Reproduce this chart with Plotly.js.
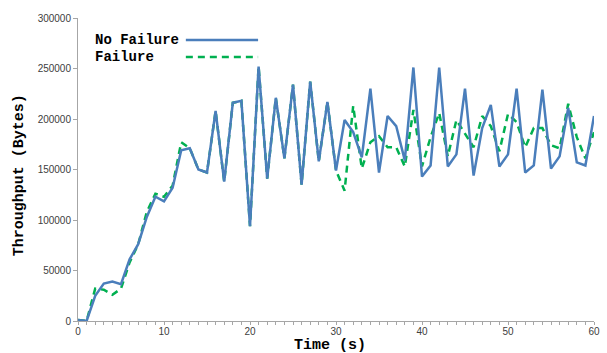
<!DOCTYPE html>
<html>
<head>
<meta charset="utf-8">
<script src="https://cdn.plot.ly/plotly-3.0.1.min.js"></script>
<style>html,body{margin:0;padding:0;background:#fff;}#chart{width:607px;height:353px;}</style>
</head>
<body>
<div id="chart"></div>
<script>
// Time (s)
const timeS = [0,1,2,3,4,5,6,7,8,9,10,11,12,13,14,15,16,17,18,19,20,21,22,23,24,25,26,27,28,29,30,31,32,33,34,35,36,37,38,39,40,41,42,43,44,45,46,47,48,49,50,51,52,53,54,55,56,57,58,59,60];
// Throughput (Bytes), No Failure
const noFailure = [1000,0,25000,37000,39000,36500,61000,76000,103000,123000,118500,132000,169000,171000,150000,147000,208000,138000,216000,218000,94000,252000,141000,221000,161000,234000,135000,237000,158000,217000,149000,199000,187000,162000,230000,147000,203000,193000,159000,251000,143000,154000,251000,153000,165000,230000,144000,191000,214000,153000,165000,230000,147000,154000,229000,151000,163000,211000,157000,154000,203000];
// Throughput (Bytes), Failure
const failure = [1000,0,32000,31000,26000,32000,58000,76000,108000,126000,123000,134000,177000,171000,150000,147000,208000,138000,216000,218000,94000,252000,141000,221000,161000,234000,135000,237000,158000,217000,149000,129000,213000,151000,177000,183000,172000,172000,153000,209000,153000,182000,206000,163000,199000,186000,172000,203000,193000,168000,205000,197000,172000,191000,191000,174000,171000,215000,182000,161000,187000];
const seriesNames = ["No Failure", "Failure"];
const xTitle = "Time (s)";
const yTitle = "Throughput (Bytes)";

const blue = "#4A7EBB", green = "#00B050";
const mono = "'Liberation Mono', 'Courier New', monospace";

const traces = [
  {x: timeS, y: failure, name: seriesNames[1], mode: "lines", line: {color: green, width: 2.5, dash: "7px,5px"}, showlegend: false},
  {x: timeS, y: noFailure, name: seriesNames[0], mode: "lines", line: {color: blue, width: 2.5}, showlegend: false}
];

const layout = {
  width: 607, height: 353,
  margin: {l: 78, r: 13, t: 18, b: 32},
  paper_bgcolor: "#fff", plot_bgcolor: "#fff",
  font: {family: "'Liberation Sans', Arial, sans-serif", size: 10, color: "#404040"},
  xaxis: {
    range: [0, 60], dtick: 10, tick0: 0, showgrid: false, zeroline: false,
    showline: true, linecolor: "#A6A6A6", linewidth: 1,
    ticks: "outside", ticklen: 3, tickcolor: "#A6A6A6", ticklabelstandoff: -2,
    minor: {dtick: 1, ticks: "outside", ticklen: 3, tickcolor: "#A6A6A6", showgrid: false},
    tickfont: {size: 10, color: "#404040"}
  },
  yaxis: {
    range: [0, 300000], dtick: 50000, tickformat: "d", showgrid: false, zeroline: false,
    showline: true, linecolor: "#A6A6A6", linewidth: 1,
    ticks: "outside", ticklen: 4, tickcolor: "#A6A6A6",
    tickfont: {size: 10, color: "#404040"}
  },
  showlegend: false,
  annotations: [
    {xref: "paper", yref: "paper", x: 0.488, y: -0.1122, xanchor: "center", yanchor: "bottom", showarrow: false, borderpad: 0,
     text: "<b>" + xTitle + "</b>", font: {family: mono, size: 15, color: "#000"}},
    {xref: "paper", yref: "paper", x: -0.112, y: 0.482, xanchor: "center", yanchor: "middle", showarrow: false, textangle: -90,
     text: "<b>" + yTitle + "</b>", font: {family: mono, size: 15, color: "#000"}},
    {xref: "paper", yref: "paper", x: 0.029, y: 0.927, xanchor: "left", yanchor: "middle", showarrow: false,
     text: "<b>" + seriesNames[0] + "</b>", font: {family: mono, size: 14, color: "#000"}},
    {xref: "paper", yref: "paper", x: 0.029, y: 0.871, xanchor: "left", yanchor: "middle", showarrow: false,
     text: "<b>" + seriesNames[1] + "</b>", font: {family: mono, size: 14, color: "#000"}}
  ],
  shapes: [
    {type: "line", xref: "paper", yref: "paper", x0: 0.209, x1: 0.349, y0: 0.927, y1: 0.927, line: {color: blue, width: 2.5}},
    {type: "line", xref: "paper", yref: "paper", x0: 0.209, x1: 0.349, y0: 0.871, y1: 0.871, line: {color: green, width: 2.5, dash: "7px,5px"}}
  ]
};

Plotly.newPlot("chart", traces, layout, {displayModeBar: false, staticPlot: true});
</script>
</body>
</html>
